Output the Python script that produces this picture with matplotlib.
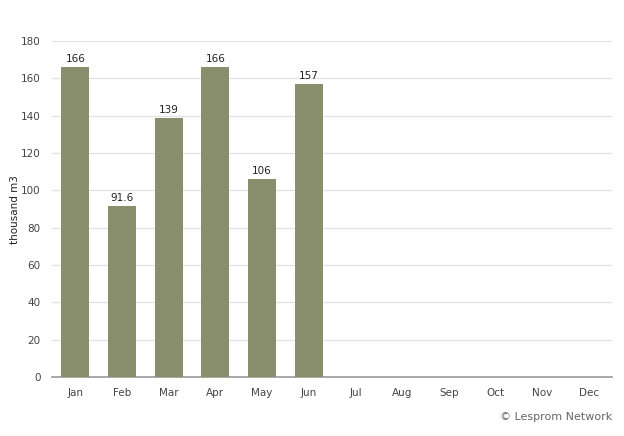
import matplotlib
matplotlib.use('agg')
import matplotlib.pyplot as plt

months = ['Jan', 'Feb', 'Mar', 'Apr', 'May', 'Jun', 'Jul', 'Aug', 'Sep', 'Oct', 'Nov', 'Dec']
values = [166, 91.6, 139, 166, 106, 157]
labels = ['166', '91.6', '139', '166', '106', '157']
yticks = [0, 20, 40, 60, 80, 100, 120, 140, 160, 180]

fig = plt.figure(figsize=(6.24, 4.36), dpi=100)
ax = fig.add_axes([0.0833, 0.135, 0.898, 0.771])

x = list(range(len(months)))
bars = ax.bar(x[:len(values)], values, width=0.6, color='#898e6c', zorder=3)
for b, lab in zip(bars, labels):
	ax.text(b.get_x() + b.get_width() / 2, b.get_height() + 1.5, lab,
		ha='center', va='bottom', fontsize=7.5, color='#222222')

ax.set_xlim(-0.5, len(months) - 0.5)
ax.set_ylim(0, 180)
ax.set_xticks(x)
ax.set_xticklabels(months, fontsize=7.5, color='#444444')
ax.set_yticks(yticks)
ax.set_yticklabels([str(t) for t in yticks], fontsize=7.5, color='#444444')
ax.tick_params(length=0, pad=8)
ax.tick_params(axis='y', pad=8)
ax.grid(axis='y', color='#e2e2e2', linewidth=0.9, zorder=0)
for s in ['top', 'right', 'left']:
	ax.spines[s].set_visible(False)
ax.spines['bottom'].set_color('#999999')
ax.spines['bottom'].set_linewidth(1.2)

## y label placed by hand so it stays inside the figure
fig.text(0.024, 0.52, 'thousand m3', rotation=90, ha='center', va='center', fontsize=7.5, color='#222222')

fig.text(0.981, 0.043, '\u00a9 Lesprom Network', ha='right', va='center', fontsize=8, color='#666666')

fig.savefig('out.png', dpi=100)
